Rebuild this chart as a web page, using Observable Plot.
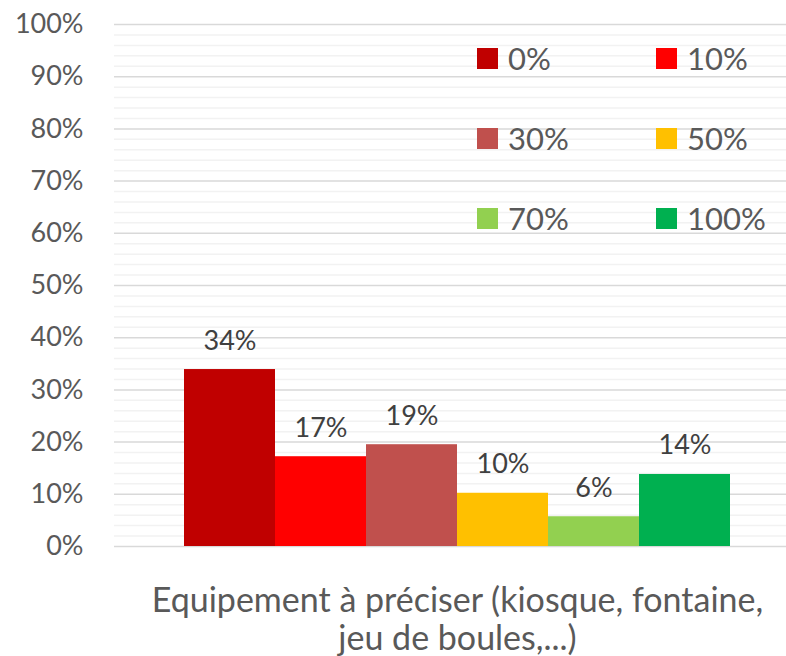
<!DOCTYPE html>
<html>
<head>
<meta charset="utf-8">
<script src="https://cdn.jsdelivr.net/npm/d3@7"></script>
<script src="https://cdn.jsdelivr.net/npm/@observablehq/plot@0.6"></script>
<style>
  html, body { margin: 0; padding: 0; background: #fff; }
  #wrap { position: relative; width: 786px; height: 656px; font-family: Lato, sans-serif; }
  #legend { position: absolute; left: 477px; top: 48px; display: grid;
            grid-template-columns: 179px 179px; grid-auto-rows: 80px; }
  .item { display: flex; align-items: flex-start; height: 21px; }
  .sw { width: 21px; height: 21px; flex: none; }
  .lab { margin-left: 10px; font-size: 31px; line-height: 21px; color: #595959; }
</style>
</head>
<body>
<div id="wrap"></div>
<script>
const category = "Equipement à préciser (kiosque, fontaine, jeu de boules,...)";
const series = ["0%", "10%", "30%", "50%", "70%", "100%"];
const values = [0.339, 0.172, 0.195, 0.102, 0.057, 0.138];
const valueLabels = ["34%", "17%", "19%", "10%", "6%", "14%"];
const colors = ["#C00000", "#FF0000", "#C0504D", "#FFC000", "#92D050", "#00B050"];
const majorTicks = [0, 0.1, 0.2, 0.3, 0.4, 0.5, 0.6, 0.7, 0.8, 0.9, 1.0];
const minorTicks = d3.range(0, 1.001, 0.02).filter(t => Math.round(t * 100) % 10 !== 0);

const data = series.map((s, i) => ({series: s, value: values[i], label: valueLabels[i]}));

const chart = Plot.plot({
  width: 786,
  height: 656,
  marginLeft: 114,
  marginRight: 0,
  marginTop: 24,
  marginBottom: 110,
  style: {fontFamily: "Lato, sans-serif", background: "white", overflow: "visible"},
  x: {domain: series, padding: 0, insetLeft: 69, insetRight: 55, axis: null},
  y: {domain: [0, 1]},
  color: {domain: series, range: colors},
  marks: [
    Plot.ruleY(minorTicks, {stroke: "#f2f2f2", strokeWidth: 1.5}),
    Plot.ruleY(majorTicks, {stroke: "#d9d9d9", strokeWidth: 1.5}),
    Plot.axisY({ticks: majorTicks, tickFormat: d3.format(".0%"), tickSize: 0, tickPadding: 31,
                fontSize: 27, fill: "#595959", label: null}),
    Plot.barY(data, {x: "series", y: "value", fill: "series"}),
    Plot.text(data, {x: "series", y: "value", text: "label", lineAnchor: "bottom", dy: -20,
                     fontSize: 27, fill: "#404040"}),
    Plot.text([category], {frameAnchor: "bottom", dx: 7, dy: 72, lineAnchor: "middle",
                           text: d => d.replace("fontaine, ", "fontaine,\n"),
                           lineHeight: 1.12, fontSize: 34, fill: "#595959"})
  ]
});

const wrap = document.getElementById("wrap");
wrap.appendChild(chart);

const legend = document.createElement("div");
legend.id = "legend";
series.forEach((s, i) => {
  const item = document.createElement("div");
  item.className = "item";
  const sw = document.createElement("div");
  sw.className = "sw";
  sw.style.background = colors[i];
  const lab = document.createElement("span");
  lab.className = "lab";
  lab.textContent = s;
  item.appendChild(sw);
  item.appendChild(lab);
  legend.appendChild(item);
});
wrap.appendChild(legend);
</script>
</body>
</html>
